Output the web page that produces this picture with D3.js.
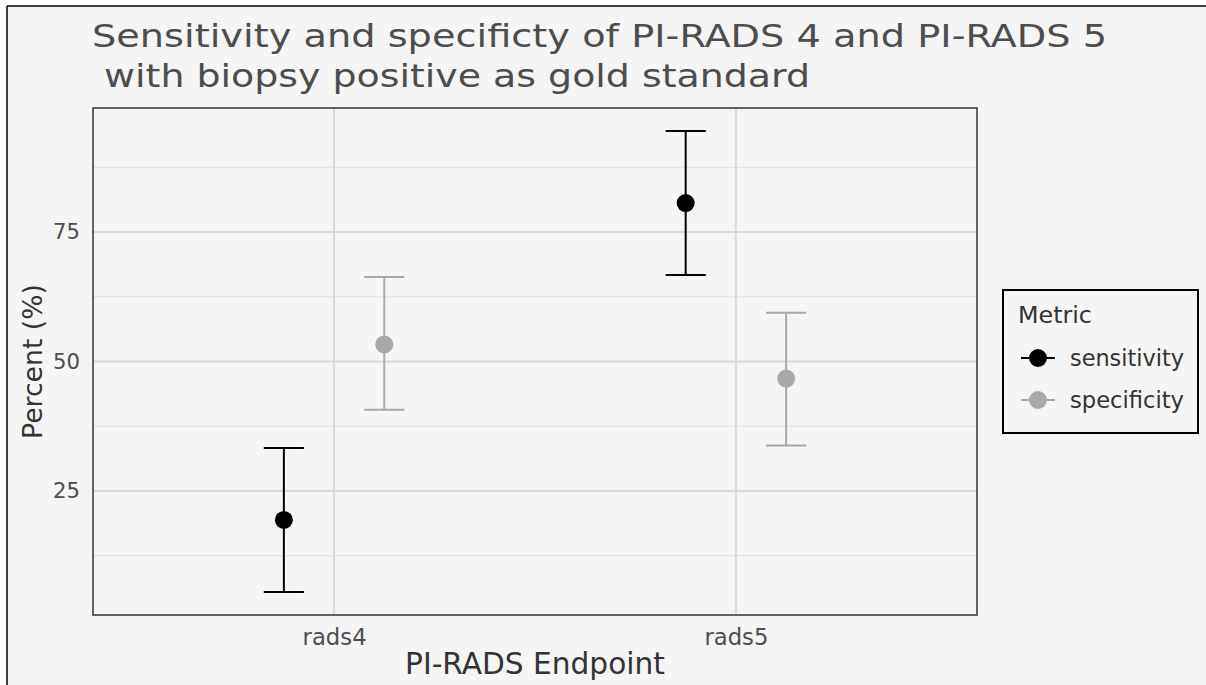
<!DOCTYPE html>
<html><head><meta charset="utf-8">
<script src="https://cdn.jsdelivr.net/npm/d3@7"></script>
<style>body{margin:0;background:#fff}svg{display:block}text{font-family:"DejaVu Sans",sans-serif}</style>
</head><body><svg id="c" width="1206" height="685"></svg>
<script>
const categories = ["rads4", "rads5"];
const metrics = ["sensitivity", "specificity"];
const estimate = { sensitivity: [19.4, 80.6], specificity: [53.3, 46.7] };
const lower =    { sensitivity: [5.5, 66.7],  specificity: [40.7, 33.8] };
const upper =    { sensitivity: [33.3, 94.5], specificity: [66.3, 59.4] };
const yTicks = [25, 50, 75];
const yMinor = [12.5, 37.5, 62.5, 87.5];
const metricColors = { sensitivity: "#000000", specificity: "#a9a9a9" };
const titleLines = ["Sensitivity and specificty of PI-RADS 4 and PI-RADS 5", " with biopsy positive as gold standard"];

const svg = d3.select("#c");
svg.append("rect").attr("x",7).attr("y",6).attr("width",1199).attr("height",679).attr("fill","#f5f5f5");
svg.append("line").attr("x1",7).attr("x2",1206).attr("y1",6).attr("y2",6).attr("stroke","#000").attr("stroke-width",1.5);
svg.append("line").attr("x1",7).attr("x2",7).attr("y1",6).attr("y2",685).attr("stroke","#000").attr("stroke-width",1.5);

const P = {l:93, r:977, t:108, b:615};
const allVals = metrics.flatMap(m => lower[m].concat(upper[m]));
const lo = d3.min(allVals), hi = d3.max(allVals), span = hi - lo;
const y = d3.scaleLinear().domain([lo - 0.05*span, hi + 0.05*span]).range([P.b, P.t]);
const xi = d3.scaleLinear().domain([0.4, categories.length + 0.6]).range([P.l, P.r]);
const xPos = c => xi(categories.indexOf(c) + 1);
const dodge = d3.scaleBand().domain(metrics).range([-0.25, 0.25]);
const off = m => dodge(m) + dodge.bandwidth()/2;

function fit(t, w){ const n=t.node(); const cur=n.getComputedTextLength(); const fs=parseFloat(t.attr("font-size")); t.attr("font-size", fs*w/cur); }

const g = svg.append("g");
yMinor.forEach(v => g.append("line").attr("x1",P.l).attr("x2",P.r).attr("y1",y(v)).attr("y2",y(v)).attr("stroke","#dedede").attr("stroke-width",1));
yTicks.forEach(v => g.append("line").attr("x1",P.l).attr("x2",P.r).attr("y1",y(v)).attr("y2",y(v)).attr("stroke","#d9d9d9").attr("stroke-width",2));
categories.forEach(c => g.append("line").attr("x1",xPos(c)).attr("x2",xPos(c)).attr("y1",P.t).attr("y2",P.b).attr("stroke","#d9d9d9").attr("stroke-width",2));

const yAxis = svg.append("g").attr("transform",`translate(${P.l},0)`).call(d3.axisLeft(y).tickValues(yTicks).tickSize(0).tickPadding(13));
yAxis.select(".domain").remove();
yAxis.selectAll("text").attr("font-size",19).attr("fill","#4d4d4d").attr("font-family","DejaVu Sans").each(function(){ fit(d3.select(this), 27); });
const xBand = d3.scaleOrdinal().domain(categories).range(categories.map(xPos));
const xAxis = svg.append("g").attr("transform",`translate(0,${P.b})`).call(d3.axisBottom(xBand).tickSize(0).tickPadding(14));
xAxis.select(".domain").remove();
xAxis.selectAll("text").attr("font-size",19).attr("fill","#4d4d4d").attr("font-family","DejaVu Sans").each(function(){ fit(d3.select(this), 64); });

const ew = 0.05;
metrics.forEach(m => {
  categories.forEach((c,i) => {
    const cx = xi(i + 1 + off(m));
    const col = metricColors[m];
    const eg = svg.append("g").attr("stroke",col).attr("stroke-width",2);
    eg.append("line").attr("x1",cx).attr("x2",cx).attr("y1",y(lower[m][i])).attr("y2",y(upper[m][i]));
    eg.append("line").attr("x1",xi(i+1+off(m)-ew)).attr("x2",xi(i+1+off(m)+ew)).attr("y1",y(lower[m][i])).attr("y2",y(lower[m][i]));
    eg.append("line").attr("x1",xi(i+1+off(m)-ew)).attr("x2",xi(i+1+off(m)+ew)).attr("y1",y(upper[m][i])).attr("y2",y(upper[m][i]));
    svg.append("circle").attr("cx",cx).attr("cy",y(estimate[m][i])).attr("r",9).attr("fill",col);
  });
});

svg.append("rect").attr("x",P.l).attr("y",P.t).attr("width",P.r-P.l).attr("height",P.b-P.t).attr("fill","none").attr("stroke","#333").attr("stroke-width",1.5);

svg.append("text").attr("x",92).attr("y",47).attr("font-size",32).attr("fill","#4d4d4d")
  .attr("textLength",1015).attr("lengthAdjust","spacingAndGlyphs").text(titleLines[0]);
svg.append("text").attr("x",92).attr("y",87).attr("font-size",32).attr("fill","#4d4d4d")
  .attr("textLength",718).attr("lengthAdjust","spacingAndGlyphs").attr("xml:space","preserve").style("white-space","pre").text(titleLines[1]);

const yt = svg.append("text").attr("transform",`translate(42,${(P.t+P.b)/2}) rotate(-90)`).attr("text-anchor","middle").attr("font-size",22).attr("fill","#333").text("Percent (%)");
fit(yt, 155);
const xt = svg.append("text").attr("x",(P.l+P.r)/2).attr("y",674).attr("text-anchor","middle").attr("font-size",22).attr("fill","#333").text("PI-RADS Endpoint");
fit(xt, 260);

const L = svg.append("g");
L.append("rect").attr("x",1003).attr("y",290).attr("width",195).attr("height",143).attr("fill","#f5f5f5").attr("stroke","#000").attr("stroke-width",2);
const lt = L.append("text").attr("x",1018).attr("y",323).attr("font-size",19).attr("fill","#333").text("Metric");
fit(lt, 74);
metrics.forEach((m,i) => {
  const cy = 358 + i*42;
  L.append("line").attr("x1",1021).attr("x2",1055).attr("y1",cy).attr("y2",cy).attr("stroke",metricColors[m]).attr("stroke-width",2);
  L.append("circle").attr("cx",1038).attr("cy",cy).attr("r",9).attr("fill",metricColors[m]);
  const tx = L.append("text").attr("x",1070).attr("y",cy).attr("dy","0.35em").attr("font-size",18).attr("fill","#333").text(m);
  fit(tx, 114);
});
</script></body></html>
